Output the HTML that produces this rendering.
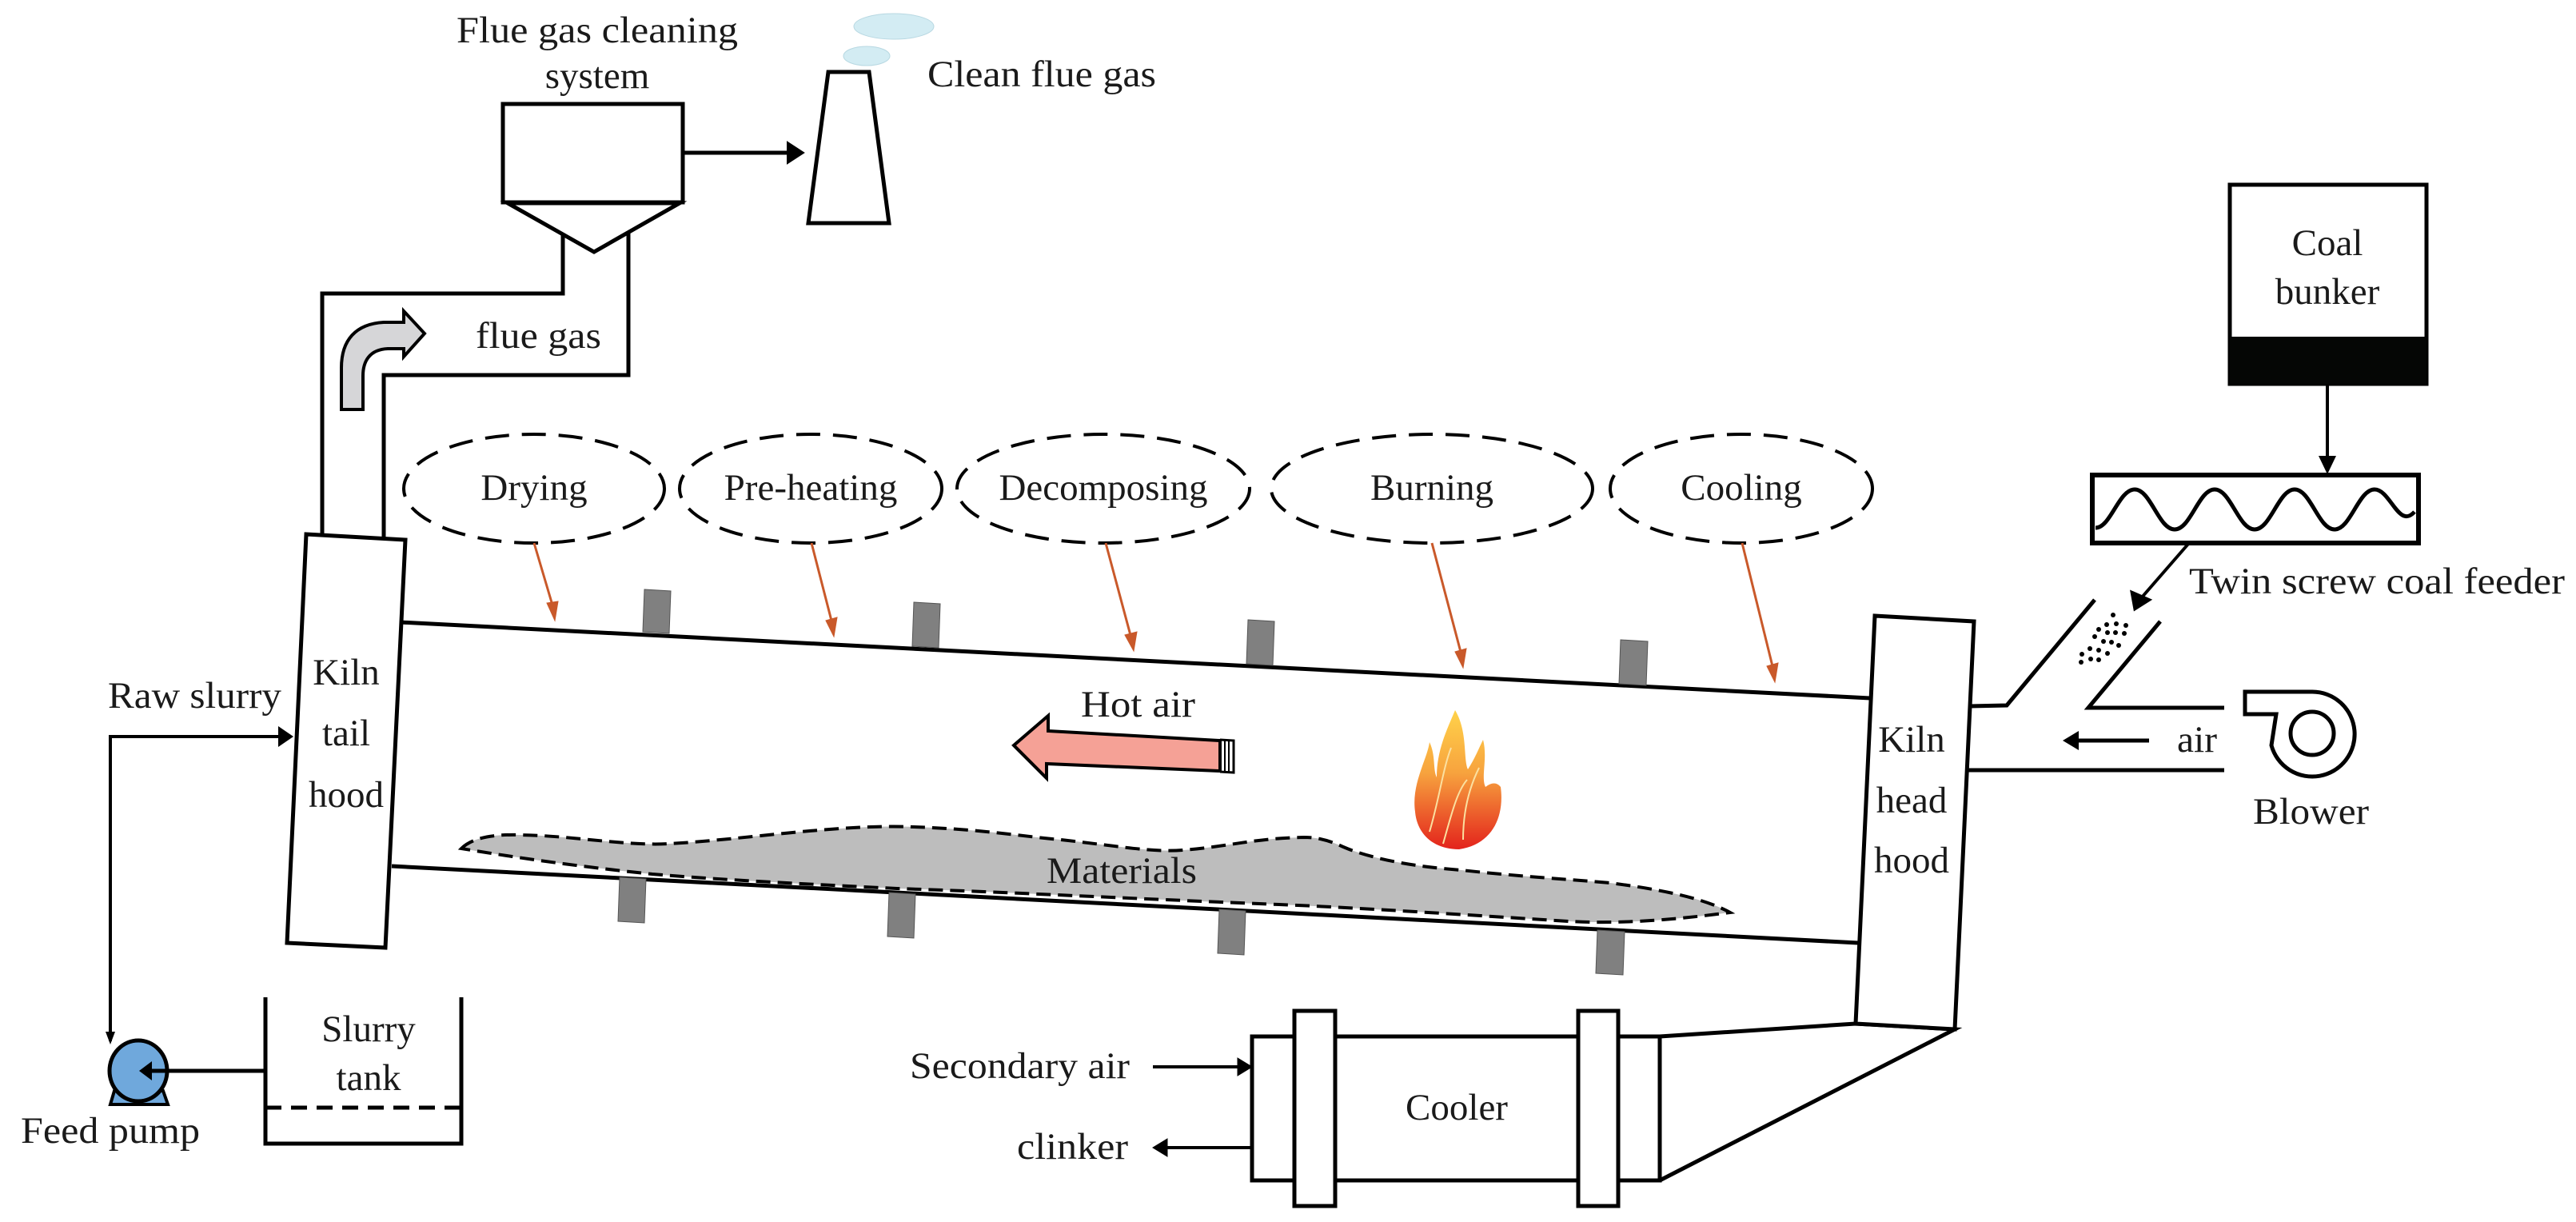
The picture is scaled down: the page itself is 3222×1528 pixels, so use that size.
<!DOCTYPE html>
<html><head><meta charset="utf-8"><style>
html,body{margin:0;padding:0;background:#fff;}
svg{display:block;}
text{font-family:"Liberation Serif",serif;font-size:47px;fill:#1a1a1a;}
</style></head><body>
<svg width="3222" height="1528" viewBox="0 0 3222 1528" xmlns="http://www.w3.org/2000/svg">
<defs>
<marker id="ab" markerWidth="10" markerHeight="10" refX="9" refY="5" orient="auto" markerUnits="userSpaceOnUse" viewBox="0 0 10 10">
</marker>
<linearGradient id="fg" x1="0" y1="0" x2="0" y2="1">
<stop offset="0" stop-color="#ffd24a"/><stop offset="0.45" stop-color="#f7a33e"/><stop offset="1" stop-color="#e3231c"/>
</linearGradient>
</defs>
<g stroke="#000" stroke-width="5" fill="none">
<!-- flue gas cleaning box -->
<rect x="629" y="130" width="225" height="123" fill="#fff"/>
<path d="M635,254 L850,254 L743,315 Z" fill="#fff"/>
<!-- duct -->
<path d="M403,668 L403,367 L704,367 L704,292"/>
<path d="M786,292 L786,469 L480,469 L480,672"/>
<!-- arrow to chimney -->
<line x1="854" y1="191" x2="988" y2="191"/>
<path d="M985,178 L1005,191 L985,204 Z" fill="#000" stroke-width="2"/>
<!-- chimney -->
<path d="M1036,90 L1087,90 L1112,279 L1011,279 Z" fill="#fff"/>
</g>
<ellipse cx="1118" cy="33" rx="50" ry="16" fill="#d3ecf3" stroke="#b8d8e2" stroke-width="1"/>
<ellipse cx="1084" cy="70" rx="29" ry="12" fill="#d3ecf3" stroke="#b8d8e2" stroke-width="1"/>
<!-- grey curved arrow -->
<path d="M427,512 L427,460 C427,425 445,405 480,403 L505,403 L505,389 L531,417 L505,446 L505,436 L485,436 C462,437 454,452 454,470 L454,512 Z" fill="#d6d6d8" stroke="#000" stroke-width="4"/>
<text x="747" y="53" text-anchor="middle" textLength="352" lengthAdjust="spacingAndGlyphs">Flue gas cleaning</text>
<text x="747" y="110" text-anchor="middle">system</text>
<text x="1160" y="108" textLength="286" lengthAdjust="spacingAndGlyphs">Clean flue gas</text>
<text x="595" y="435" textLength="157" lengthAdjust="spacingAndGlyphs">flue gas</text>
<!-- stage ellipses -->
<g stroke="#000" stroke-width="4" fill="none" stroke-dasharray="30,16">
<ellipse cx="668" cy="611" rx="163" ry="68"/>
<ellipse cx="1014" cy="611" rx="164" ry="68"/>
<ellipse cx="1380" cy="611" rx="183" ry="68"/>
<ellipse cx="1791" cy="611" rx="201" ry="68"/>
<ellipse cx="2178" cy="611" rx="164" ry="68"/>
</g>
<text x="668" y="625" text-anchor="middle">Drying</text>
<text x="1014" y="625" text-anchor="middle">Pre-heating</text>
<text x="1380" y="625" text-anchor="middle">Decomposing</text>
<text x="1791" y="625" text-anchor="middle">Burning</text>
<text x="2178" y="625" text-anchor="middle">Cooling</text>
<!-- orange arrows -->
<g stroke="#c9592a" stroke-width="3" fill="#c9592a">
<line x1="668" y1="679" x2="692" y2="760"/><path d="M684,754 L694,776 L698,752 Z" stroke-width="1"/>
<line x1="1015" y1="679" x2="1041" y2="780"/><path d="M1033,776 L1043,796 L1047,772 Z" stroke-width="1"/>
<line x1="1383" y1="679" x2="1415" y2="798"/><path d="M1407,794 L1418,814 L1422,790 Z" stroke-width="1"/>
<line x1="1791" y1="679" x2="1828" y2="819"/><path d="M1820,815 L1830,835 L1834,811 Z" stroke-width="1"/>
<line x1="2179" y1="679" x2="2218" y2="837"/><path d="M2210,833 L2220,853 L2224,829 Z" stroke-width="1"/>
</g>
<!-- materials -->
<path d="M577,1061 C590,1048 615,1043 650,1044 C720,1045 780,1058 837,1055 C930,1050 1050,1030 1143,1034 C1230,1037 1280,1046 1327,1050 C1400,1058 1440,1066 1480,1063 C1540,1058 1570,1048 1631,1047 C1660,1047 1675,1058 1693,1064 C1740,1080 1790,1085 1828,1088 C1900,1096 1970,1100 2014,1104 C2100,1115 2140,1128 2164,1141 C2080,1152 2020,1155 1962,1152 C1850,1145 1700,1135 1600,1131 C1400,1123 1250,1115 1122,1111 C1000,1105 900,1100 816,1093 C720,1083 650,1073 577,1061 Z" fill="#bdbdbd" stroke="#000" stroke-width="4" stroke-dasharray="18,9"/>
<text x="1309" y="1104" textLength="188" lengthAdjust="spacingAndGlyphs">Materials</text>
<!-- kiln tube -->
<g stroke="#000" stroke-width="5" fill="none">
<line x1="500" y1="778" x2="2339" y2="873"/>
<line x1="490" y1="1083" x2="2324" y2="1179"/>
</g>
<!-- paddles -->
<g fill="#808080" stroke="#555" stroke-width="1">
<path d="M806,737 L839,739 L837,792 L804,790 Z"/>
<path d="M1143,753 L1176,755 L1174,810 L1141,808 Z"/>
<path d="M1561,775 L1594,777 L1592,832 L1559,830 Z"/>
<path d="M2027,800 L2061,802 L2059,857 L2025,855 Z"/>
<path d="M775,1097 L808,1099 L806,1154 L773,1152 Z"/>
<path d="M1112,1116 L1145,1118 L1143,1173 L1110,1171 Z"/>
<path d="M1525,1137 L1558,1139 L1556,1194 L1523,1192 Z"/>
<path d="M1998,1163 L2032,1165 L2030,1219 L1996,1217 Z"/>
</g>
<!-- kiln tail hood -->
<path d="M383,668 L507,675 L482,1185 L359,1179 Z" fill="#fff" stroke="#000" stroke-width="5"/>
<text x="433" y="856" text-anchor="middle">Kiln</text>
<text x="433" y="932" text-anchor="middle">tail</text>
<text x="433" y="1009" text-anchor="middle">hood</text>
<!-- hot air arrow -->
<path d="M1268,932 L1311,895 L1311,914 L1526,926 L1526,964 L1309,955 L1309,973 Z" fill="#f5a196" stroke="#000" stroke-width="4"/>
<path d="M1526,925 L1543,926 L1543,966 L1526,965" fill="none" stroke="#000" stroke-width="3"/>
<line x1="1532" y1="926" x2="1532" y2="965" stroke="#000" stroke-width="2"/>
<line x1="1537" y1="926" x2="1537" y2="965" stroke="#000" stroke-width="2"/>
<text x="1352" y="896" textLength="143" lengthAdjust="spacingAndGlyphs">Hot air</text>
<!-- flame -->
<path d="M1770,1015 C1765,980 1785,950 1788,928 C1796,945 1792,962 1797,972 C1797,938 1810,912 1820,888 C1836,915 1830,948 1836,962 C1845,948 1850,935 1855,925 C1861,948 1852,972 1858,984 C1866,978 1872,978 1877,984 C1882,1022 1866,1056 1825,1062 C1790,1062 1772,1040 1770,1015 Z" fill="url(#fg)"/>
<path d="M1788,1040 C1800,1000 1805,960 1815,935 M1830,1050 C1830,1010 1840,980 1850,960 M1805,1055 C1815,1020 1822,990 1835,975" stroke="#fbe0a0" stroke-width="2" fill="none"/>
<!-- kiln head hood -->
<g stroke="#000" stroke-width="5" fill="none">
<path d="M2076,1296 L2321,1280 L2445,1287 L2076,1476"/>
<line x1="2076" y1="1296" x2="2076" y2="1476"/>
<path d="M2345,770 L2469,777 L2445,1287 L2321,1280 Z" fill="#fff"/>
<!-- cooler -->
<rect x="1566" y="1296" width="510" height="180" fill="#fff"/>
<rect x="1619" y="1264" width="51" height="244" fill="#fff"/>
<rect x="1974" y="1264" width="50" height="244" fill="#fff"/>
</g>
<text x="2391" y="940" text-anchor="middle">Kiln</text>
<text x="2391" y="1016" text-anchor="middle">head</text>
<text x="2391" y="1091" text-anchor="middle">hood</text>
<text x="1822" y="1400" text-anchor="middle">Cooler</text>
<!-- secondary air / clinker -->
<g stroke="#000" stroke-width="4" fill="#000">
<line x1="1442" y1="1334" x2="1550" y2="1334"/><path d="M1548,1323 L1566,1334 L1548,1345 Z" stroke-width="1"/>
<line x1="1566" y1="1435" x2="1458" y2="1435"/><path d="M1460,1424 L1442,1435 L1460,1446 Z" stroke-width="1"/>
</g>
<text x="1138" y="1348" textLength="275" lengthAdjust="spacingAndGlyphs">Secondary air</text>
<text x="1272" y="1449" textLength="139" lengthAdjust="spacingAndGlyphs">clinker</text>
<!-- raw slurry line -->
<g stroke="#000" stroke-width="4" fill="none">
<path d="M138,1302 L138,921 L352,921"/>
</g>
<path d="M348,908 L367,921 L348,934 Z" fill="#000"/>
<path d="M132,1290 L138,1306 L144,1290 Z" fill="#000"/>
<text x="135" y="885" textLength="217" lengthAdjust="spacingAndGlyphs">Raw slurry</text>
<!-- pump -->
<path d="M143,1364 L204,1364 L210,1381 L138,1381 Z" fill="#6fa8dc" stroke="#000" stroke-width="4"/>
<ellipse cx="173" cy="1339" rx="36" ry="38" fill="#6fa8dc" stroke="#000" stroke-width="5"/>
<line x1="332" y1="1339" x2="185" y2="1339" stroke="#000" stroke-width="5"/>
<path d="M190,1327 L174,1339 L190,1351 Z" fill="#000"/>
<text x="26" y="1429" textLength="224" lengthAdjust="spacingAndGlyphs">Feed pump</text>
<!-- slurry tank -->
<path d="M332,1247 L332,1430 L577,1430 L577,1247" fill="none" stroke="#000" stroke-width="5"/>
<line x1="332" y1="1385" x2="577" y2="1385" stroke="#000" stroke-width="5" stroke-dasharray="20,12"/>
<text x="461" y="1302" text-anchor="middle">Slurry</text>
<text x="461" y="1363" text-anchor="middle">tank</text>
<!-- coal bunker -->
<rect x="2789" y="231" width="246" height="249" fill="#fff" stroke="#000" stroke-width="5"/>
<rect x="2789" y="421" width="246" height="59" fill="#050605"/>
<text x="2911" y="319" text-anchor="middle">Coal</text>
<text x="2911" y="380" text-anchor="middle">bunker</text>
<line x1="2911" y1="480" x2="2911" y2="575" stroke="#000" stroke-width="4"/>
<path d="M2900,570 L2911,593 L2922,570 Z" fill="#000"/>
<!-- screw feeder -->
<rect x="2617" y="594" width="408" height="85" fill="#fff" stroke="#000" stroke-width="6"/>
<path d="M2621,660 C2640,660 2650,612 2670,612 S2700,662 2720,662 S2750,612 2770,612 S2800,662 2820,662 S2850,612 2870,612 S2900,662 2920,662 S2950,612 2970,612 S3000,662 3020,640" fill="none" stroke="#000" stroke-width="5"/>
<line x1="2738" y1="679" x2="2678" y2="748" stroke="#000" stroke-width="4"/>
<path d="M2666,740 L2670,762 L2689,750 Z" fill="#000" stroke="#000" stroke-width="3"/>
<text x="2738" y="742" textLength="470" lengthAdjust="spacingAndGlyphs">Twin screw coal feeder</text>
<!-- chute -->
<g stroke="#000" stroke-width="5" fill="none">
<path d="M2620,750 L2510,882 L2463,883"/>
<path d="M2702,777 L2612,885 L2782,885"/>
<line x1="2460" y1="963" x2="2782" y2="963"/>
<line x1="2688" y1="926" x2="2598" y2="926"/>
</g>
<path d="M2600,914 L2580,926 L2600,938 Z" fill="#000"/>
<g fill="#000">
<circle cx="2643" cy="769" r="3"/><circle cx="2635" cy="781" r="3"/><circle cx="2647" cy="780" r="3"/><circle cx="2659" cy="782" r="3"/>
<circle cx="2625" cy="787" r="3"/><circle cx="2636" cy="791" r="3"/><circle cx="2646" cy="791" r="3"/><circle cx="2657" cy="792" r="3"/>
<circle cx="2620" cy="796" r="3"/><circle cx="2631" cy="802" r="3"/><circle cx="2641" cy="803" r="3"/><circle cx="2650" cy="807" r="3"/>
<circle cx="2614" cy="811" r="3"/><circle cx="2625" cy="813" r="3"/><circle cx="2636" cy="817" r="3"/>
<circle cx="2604" cy="818" r="3"/><circle cx="2615" cy="824" r="3"/><circle cx="2625" cy="825" r="3"/><circle cx="2603" cy="828" r="3"/>
</g>
<text x="2723" y="940" textLength="50" lengthAdjust="spacingAndGlyphs">air</text>
<!-- blower -->
<path d="M2808,865 L2892,865 A53,53 0 1 1 2841,932 L2847,893 L2808,893 Z" fill="#fff" stroke="#000" stroke-width="5"/>
<circle cx="2892" cy="917" r="27" fill="#fff" stroke="#000" stroke-width="5"/>
<text x="2818" y="1030" textLength="145" lengthAdjust="spacingAndGlyphs">Blower</text>
</svg>
</body></html>
